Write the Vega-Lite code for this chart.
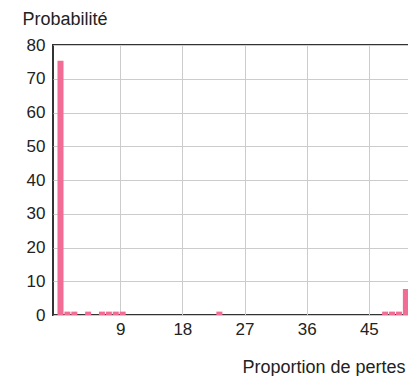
{
  "$schema": "https://vega.github.io/schema/vega-lite/v6.json",
  "width": 383,
  "height": 270,
  "autosize": "none",
  "padding": {"left": 53, "top": 45, "right": 0, "bottom": 61},
  "background": "white",
  "config": {
    "font": "Liberation Sans",
    "view": {"stroke": "#333333", "strokeWidth": 2}
  },
  "data": {
    "values": [
      {"proportion": 0, "probabilite": 75.3},
      {"proportion": 1, "probabilite": 1},
      {"proportion": 2, "probabilite": 1},
      {"proportion": 4, "probabilite": 1},
      {"proportion": 6, "probabilite": 1},
      {"proportion": 7, "probabilite": 1},
      {"proportion": 8, "probabilite": 1},
      {"proportion": 9, "probabilite": 1},
      {"proportion": 23, "probabilite": 1},
      {"proportion": 47, "probabilite": 1},
      {"proportion": 48, "probabilite": 1},
      {"proportion": 49, "probabilite": 1},
      {"proportion": 50, "probabilite": 7.7}
    ]
  },
  "mark": {"type": "bar", "color": "#f26d95", "size": 6, "xOffset": 2.5, "clip": true},
  "encoding": {
    "x": {
      "field": "proportion",
      "type": "quantitative",
      "scale": {"domain": [0, 54], "nice": false, "zero": false},
      "axis": {
        "values": [9, 18, 27, 36, 45],
        "title": "Proportion de pertes",
        "titleFontSize": 18,
        "titleFontWeight": "normal",
        "titleColor": "#222222",
        "titleAlign": "right",
        "titleAnchor": "start",
        "titleX": 352,
        "titleY": 57,
        "titleBaseline": "alphabetic",
        "labelFontSize": 17,
        "labelColor": "#222222",
        "labelPadding": 6,
        "ticks": false,
        "domain": false,
        "grid": true,
        "gridColor": "#cccccc",
        "gridWidth": 1
      }
    },
    "y": {
      "field": "probabilite",
      "type": "quantitative",
      "scale": {"domain": [0, 80], "nice": false},
      "axis": {
        "values": [0, 10, 20, 30, 40, 50, 60, 70, 80],
        "title": "Probabilité",
        "titleFontSize": 18,
        "titleFontWeight": "normal",
        "titleColor": "#222222",
        "titleAngle": 0,
        "titleAlign": "left",
        "titleAnchor": "start",
        "titleX": -31,
        "titleY": -21,
        "titleBaseline": "alphabetic",
        "labelFontSize": 17,
        "labelColor": "#222222",
        "labelPadding": 8,
        "ticks": false,
        "domain": false,
        "grid": true,
        "gridColor": "#cccccc",
        "gridWidth": 1
      }
    }
  }
}
